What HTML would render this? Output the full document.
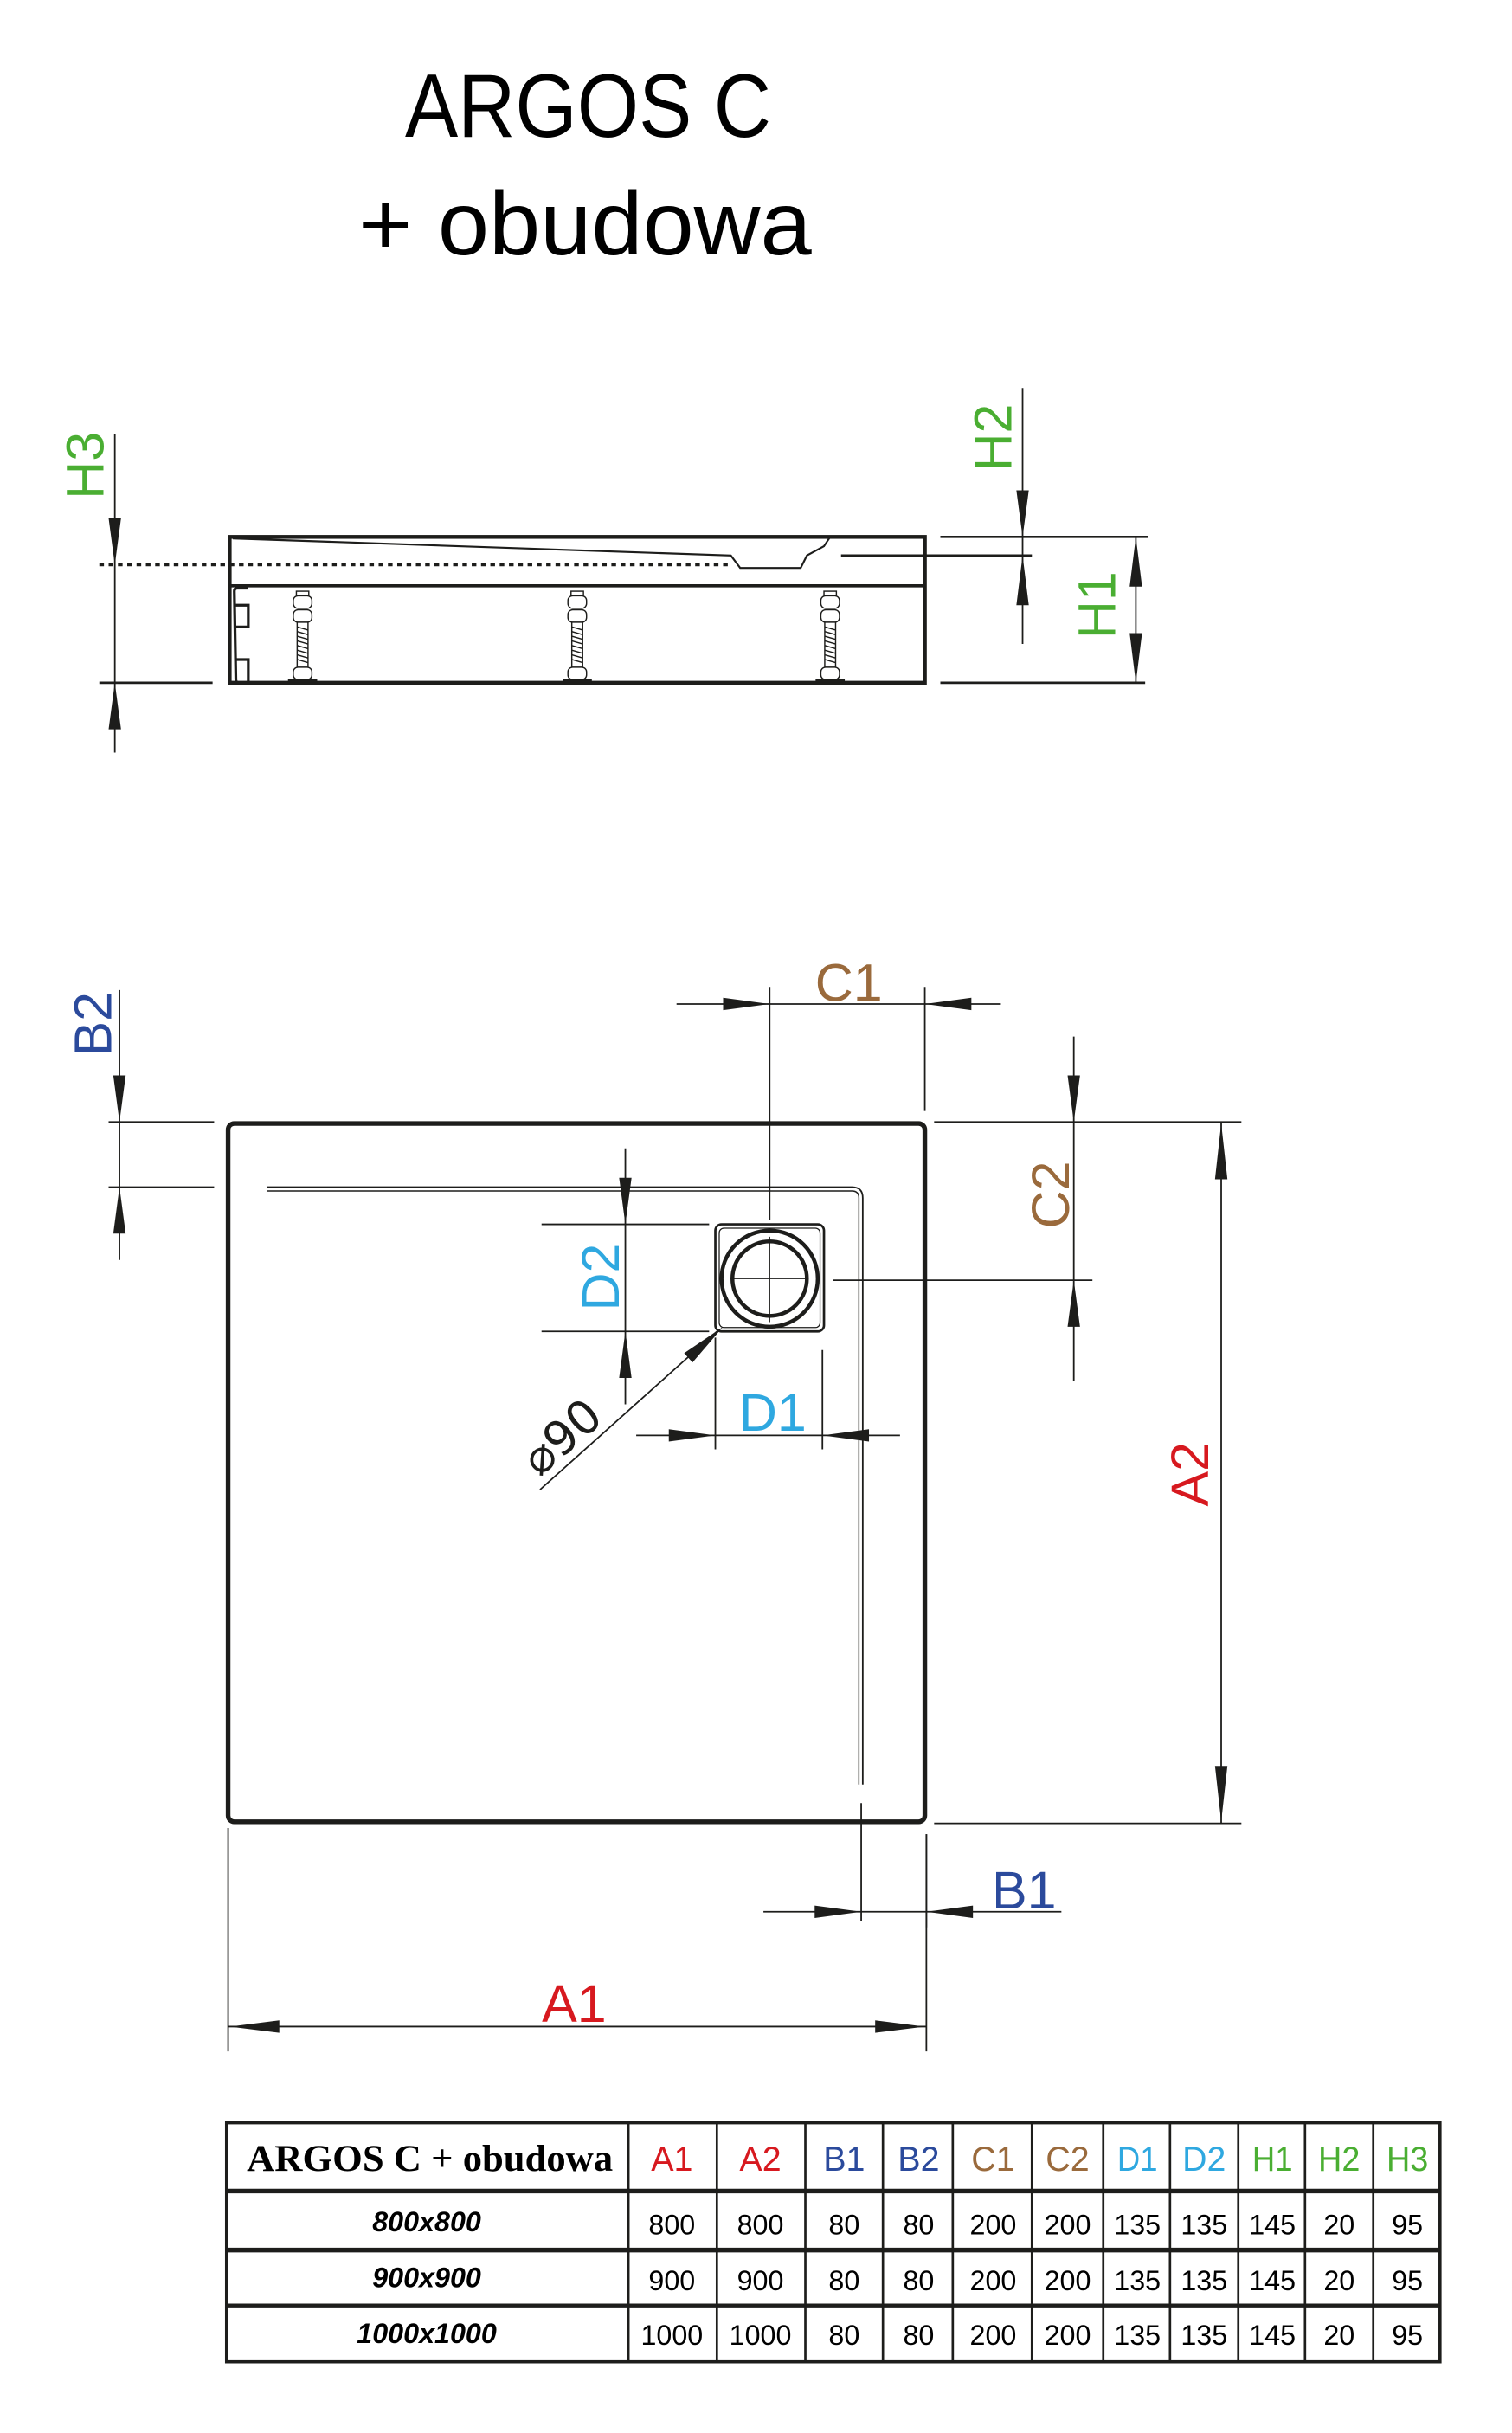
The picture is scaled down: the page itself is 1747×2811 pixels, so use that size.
<!DOCTYPE html>
<html><head><meta charset="utf-8"><style>html,body{margin:0;padding:0;background:#fff}svg{display:block}</style></head>
<body>
<svg width="1747" height="2811" viewBox="0 0 974.4 1567.9" preserveAspectRatio="none" xmlns="http://www.w3.org/2000/svg" font-family="Liberation Sans, DejaVu Sans, sans-serif">
<g fill="#000">
<text x="379" y="88" font-size="58" text-anchor="middle" textLength="236" lengthAdjust="spacingAndGlyphs">ARGOS C</text>
<text x="377" y="164" font-size="58" text-anchor="middle" textLength="292" lengthAdjust="spacingAndGlyphs">+ obudowa</text>
</g>
<!-- SIDE VIEW -->
<g stroke="#1d1d1b" fill="none">
<rect x="148" y="346" width="448" height="94" stroke-width="2.5"/>
<line x1="148" y1="377.5" x2="596" y2="377.5" stroke-width="2"/>
<line x1="64" y1="364" x2="470" y2="364" stroke-width="1.8" stroke-dasharray="3,3"/>
<path d="M150,347 L471,358 L477,366 L516,366 L520,358 L531,352 L535,346" stroke-width="1.2"/>
<line x1="542" y1="358" x2="665" y2="358" stroke-width="1.5"/>
<path d="M160,379 L153,379 Q151,379 151,381 L152,438 Q152,440 154,440 L160,440" stroke-width="1.8"/>
<path d="M152,390 L160,390 L160,404 L152,404 M152,425 L160,425 L160,440" stroke-width="1.8"/>
<line x1="64" y1="440" x2="137" y2="440" stroke-width="1.5"/>
<line x1="606" y1="346" x2="740" y2="346" stroke-width="1.5"/>
<line x1="606" y1="440" x2="738" y2="440" stroke-width="1.5"/>
<line x1="74" y1="280" x2="74" y2="485" stroke-width="1"/>
<line x1="659" y1="250" x2="659" y2="415" stroke-width="1"/>
<line x1="732" y1="346" x2="732" y2="440" stroke-width="1"/>
</g>
<g fill="#fff" stroke="#1d1d1b" stroke-width="0.8">
<g id="leg">
<rect x="191" y="381" width="8" height="3"/>
<rect x="189" y="384" width="12" height="8" rx="3"/>
<rect x="189" y="393" width="12" height="8" rx="3"/>
<rect x="191.5" y="401" width="7" height="29"/>
<path d="M191.5,404 L198.5,406 M191.5,407 L198.5,409 M191.5,410 L198.5,412 M191.5,413 L198.5,415 M191.5,416 L198.5,418 M191.5,419 L198.5,421 M191.5,422 L198.5,424 M191.5,425 L198.5,427" fill="none"/>
<rect x="189" y="430" width="12" height="8" rx="3"/>
<rect x="186" y="438" width="18" height="2" fill="#1d1d1b"/>
</g>
<use href="#leg" x="177"/>
<use href="#leg" x="340"/>
</g>
<g fill="#1d1d1b">
<polygon points="74,364 70,334 78,334"/>
<polygon points="74,440 70,470 78,470"/>
<polygon points="659,346 655,316 663,316"/>
<polygon points="659,358 655,390 663,390"/>
<polygon points="732,346 728,378 736,378"/>
<polygon points="732,440 728,408 736,408"/>
</g>
<g fill="#4aae32" font-size="34">
<text transform="translate(55,300) rotate(-90)" text-anchor="middle" dominant-baseline="central">H3</text>
<text transform="translate(640,282) rotate(-90)" text-anchor="middle" dominant-baseline="central">H2</text>
<text transform="translate(707,390) rotate(-90)" text-anchor="middle" dominant-baseline="central">H1</text>
</g>
<!-- PLAN VIEW -->
<g stroke="#1d1d1b" fill="none">
<rect x="147" y="724" width="449" height="450" rx="4" stroke-width="3"/>
<path d="M172,765 L549,765 Q556,765 556,772 L556,1150" stroke-width="1"/>
<path d="M172,767.5 L549,767.5 Q553.5,767.5 553.5,772 L553.5,1150" stroke-width="0.8"/>
<rect x="461" y="789" width="70" height="69" rx="4" stroke-width="1.5"/>
<rect x="463.5" y="791.5" width="65" height="64" rx="3" stroke-width="0.7"/>
<circle cx="496" cy="824" r="31" stroke-width="2.5"/>
<circle cx="496" cy="824" r="24" stroke-width="2.5"/>
<path d="M496,797 L496,852 M471,824 L521,824" stroke-width="0.7"/>
<g stroke-width="1">
<line x1="436" y1="647" x2="645" y2="647"/>
<line x1="496" y1="636" x2="496" y2="786"/>
<line x1="596" y1="636" x2="596" y2="716"/>
<line x1="692" y1="668" x2="692" y2="890"/>
<line x1="602" y1="723" x2="800" y2="723"/>
<line x1="537" y1="825" x2="704" y2="825"/>
<line x1="787" y1="723" x2="787" y2="1175"/>
<line x1="602" y1="1175" x2="800" y2="1175"/>
<line x1="403" y1="740" x2="403" y2="905"/>
<line x1="349" y1="789" x2="457" y2="789"/>
<line x1="349" y1="858" x2="457" y2="858"/>
<line x1="410" y1="925" x2="580" y2="925"/>
<line x1="461" y1="862" x2="461" y2="934"/>
<line x1="530" y1="870" x2="530" y2="934"/>
<line x1="348" y1="960" x2="462" y2="858"/>
<line x1="492" y1="1232" x2="684" y2="1232"/>
<line x1="555" y1="1162" x2="555" y2="1238"/>
<line x1="597" y1="1182" x2="597" y2="1242"/>
<line x1="147" y1="1306" x2="597" y2="1306"/>
<line x1="147" y1="1178" x2="147" y2="1322"/>
<line x1="597" y1="1182" x2="597" y2="1322"/>
<line x1="77" y1="638" x2="77" y2="812"/>
<line x1="70" y1="723" x2="138" y2="723"/>
<line x1="70" y1="765" x2="138" y2="765"/>
</g>
</g>
<g fill="#1d1d1b">
<polygon points="496,647 466,643 466,651"/>
<polygon points="596,647 626,643 626,651"/>
<polygon points="692,723 688,693 696,693"/>
<polygon points="692,825 688,855 696,855"/>
<polygon points="787,724 783,760 791,760"/>
<polygon points="787,1174 783,1138 791,1138"/>
<polygon points="403,789 399,759 407,759"/>
<polygon points="403,858 399,888 407,888"/>
<polygon points="461,925 431,921 431,929"/>
<polygon points="530,925 560,921 560,929"/>
<polygon points="466,855 446.3,878 440.9,872"/>
<polygon points="555,1232 525,1228 525,1236"/>
<polygon points="597,1232 627,1228 627,1236"/>
<polygon points="148,1306 180,1302 180,1310"/>
<polygon points="596,1306 564,1302 564,1310"/>
<polygon points="77,723 73,693 81,693"/>
<polygon points="77,765 73,795 81,795"/>
</g>
<g font-size="34">
<text x="547" y="645" fill="#9a6a3c" text-anchor="middle">C1</text>
<text transform="translate(677,770) rotate(-90)" fill="#9a6a3c" text-anchor="middle" dominant-baseline="central">C2</text>
<text transform="translate(767,950) rotate(-90)" fill="#d7191f" text-anchor="middle" dominant-baseline="central">A2</text>
<text transform="translate(387,823) rotate(-90)" fill="#2fa8e0" text-anchor="middle" dominant-baseline="central">D2</text>
<text x="498" y="922" fill="#2fa8e0" text-anchor="middle">D1</text>
<text x="660" y="1230" fill="#2b4a9c" text-anchor="middle">B1</text>
<text x="370" y="1303" fill="#d7191f" text-anchor="middle">A1</text>
<text transform="translate(60,660) rotate(-90)" fill="#2b4a9c" text-anchor="middle" dominant-baseline="central">B2</text>
<text transform="translate(362,926) rotate(-41)" fill="#1d1d1b" text-anchor="middle" dominant-baseline="central" font-family="DejaVu Sans, sans-serif" font-size="30">⌀90</text>
</g>
<!-- TABLE -->
<g stroke="#1d1d1b" fill="none">
<rect x="146" y="1368" width="782" height="154" stroke-width="2"/>
<line x1="146" y1="1412" x2="928" y2="1412" stroke-width="3"/>
<line x1="146" y1="1450" x2="928" y2="1450" stroke-width="3"/>
<line x1="146" y1="1486" x2="928" y2="1486" stroke-width="3"/>
<g stroke-width="1.5">
<line x1="405" y1="1368" x2="405" y2="1522"/>
<line x1="462" y1="1368" x2="462" y2="1522"/>
<line x1="519" y1="1368" x2="519" y2="1522"/>
<line x1="569" y1="1368" x2="569" y2="1522"/>
<line x1="614" y1="1368" x2="614" y2="1522"/>
<line x1="665" y1="1368" x2="665" y2="1522"/>
<line x1="711" y1="1368" x2="711" y2="1522"/>
<line x1="754" y1="1368" x2="754" y2="1522"/>
<line x1="798" y1="1368" x2="798" y2="1522"/>
<line x1="841" y1="1368" x2="841" y2="1522"/>
<line x1="885" y1="1368" x2="885" y2="1522"/>
</g>
</g>
<text x="277" y="1399" font-family="Liberation Serif, serif" font-weight="bold" font-size="24" text-anchor="middle" textLength="236" lengthAdjust="spacingAndGlyphs">ARGOS C + obudowa</text>
<g font-size="22" text-anchor="middle">
<text x="433" y="1399" fill="#d7191f">A1</text>
<text x="490" y="1399" fill="#d7191f">A2</text>
<text x="544" y="1399" fill="#2b4a9c">B1</text>
<text x="592" y="1399" fill="#2b4a9c">B2</text>
<text x="640" y="1399" fill="#9a6a3c">C1</text>
<text x="688" y="1399" fill="#9a6a3c">C2</text>
<text x="733" y="1399" fill="#2fa8e0" textLength="26" lengthAdjust="spacingAndGlyphs">D1</text>
<text x="776" y="1399" fill="#2fa8e0" textLength="28" lengthAdjust="spacingAndGlyphs">D2</text>
<text x="820" y="1399" fill="#4aae32" textLength="26" lengthAdjust="spacingAndGlyphs">H1</text>
<text x="863" y="1399" fill="#4aae32" textLength="27" lengthAdjust="spacingAndGlyphs">H2</text>
<text x="907" y="1399" fill="#4aae32" textLength="27" lengthAdjust="spacingAndGlyphs">H3</text>
</g>
<g font-size="18" font-style="italic" font-weight="bold" text-anchor="middle">
<text x="275" y="1438">800x800</text>
<text x="275" y="1474">900x900</text>
<text x="275" y="1510">1000x1000</text>
</g>
<g font-size="18" text-anchor="middle">
<text x="433" y="1440">800</text><text x="490" y="1440">800</text><text x="544" y="1440">80</text><text x="592" y="1440">80</text><text x="640" y="1440">200</text><text x="688" y="1440">200</text><text x="733" y="1440">135</text><text x="776" y="1440">135</text><text x="820" y="1440">145</text><text x="863" y="1440">20</text><text x="907" y="1440">95</text>
<text x="433" y="1476">900</text><text x="490" y="1476">900</text><text x="544" y="1476">80</text><text x="592" y="1476">80</text><text x="640" y="1476">200</text><text x="688" y="1476">200</text><text x="733" y="1476">135</text><text x="776" y="1476">135</text><text x="820" y="1476">145</text><text x="863" y="1476">20</text><text x="907" y="1476">95</text>
<text x="433" y="1511" textLength="40" lengthAdjust="spacingAndGlyphs">1000</text><text x="490" y="1511" textLength="40" lengthAdjust="spacingAndGlyphs">1000</text><text x="544" y="1511">80</text><text x="592" y="1511">80</text><text x="640" y="1511">200</text><text x="688" y="1511">200</text><text x="733" y="1511">135</text><text x="776" y="1511">135</text><text x="820" y="1511">145</text><text x="863" y="1511">20</text><text x="907" y="1511">95</text>
</g>
</svg>
</body></html>
